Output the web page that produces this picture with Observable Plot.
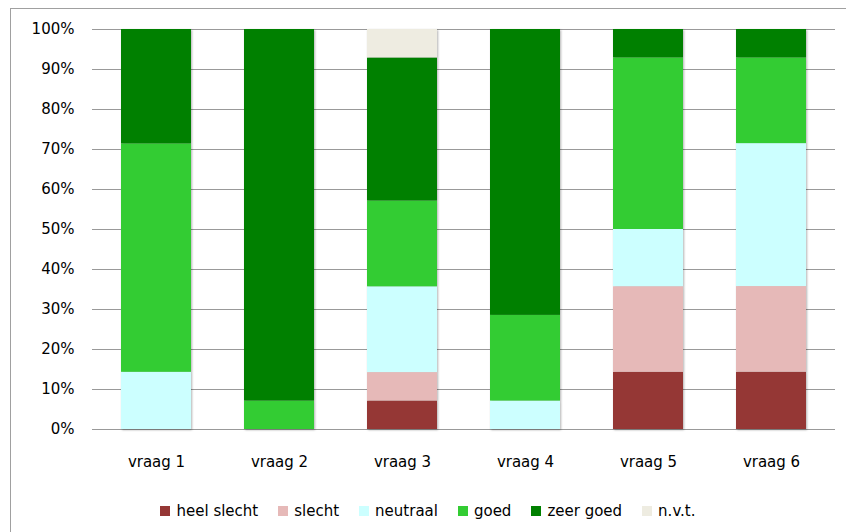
<!DOCTYPE html>
<html>
<head>
<meta charset="utf-8">
<script src="https://cdn.jsdelivr.net/npm/d3@7"></script>
<script src="https://cdn.jsdelivr.net/npm/@observablehq/plot@0.6"></script>
<style>
  html, body { margin: 0; padding: 0; background: #fff; overflow: hidden; }
  body { width: 846px; height: 532px; position: relative; font-family: "DejaVu Sans", sans-serif; }
  #frame { position: absolute; left: 10px; top: 8px; width: 900px; height: 600px; border: 1px solid #a0a0a0; box-sizing: border-box; }
  #chart { position: absolute; left: 0; top: 0; }
  #legend { position: absolute; left: 10px; top: 502px; width: 836px; display: flex; justify-content: center; gap: 20px; font-size: 15px; color: #000; }
  .item { display: flex; align-items: center; }
  .sw { width: 10px; height: 10px; margin-right: 6px; }
</style>
</head>
<body>
<div id="frame"></div>
<div id="chart"></div>
<div id="legend"></div>
<script>
const categories = ["vraag 1", "vraag 2", "vraag 3", "vraag 4", "vraag 5", "vraag 6"];
const series = ["heel slecht", "slecht", "neutraal", "goed", "zeer goed", "n.v.t."];
const colors = ["#953735", "#E6B9B8", "#CCFFFF", "#33CC33", "#008000", "#EEECE1"];
// percentages
const heelSlecht = [0, 0, 7.1, 0, 14.3, 14.3];
const slecht     = [0, 0, 7.1, 0, 21.4, 21.4];
const neutraal   = [14.3, 0, 21.4, 7.1, 14.3, 35.7];
const goed       = [57.1, 7.1, 21.4, 21.4, 42.9, 21.4];
const zeerGoed   = [28.6, 92.9, 35.7, 71.4, 7.1, 7.1];
const nvt        = [0, 0, 7.1, 0, 0, 0];
const yTicks = [0, 0.1, 0.2, 0.3, 0.4, 0.5, 0.6, 0.7, 0.8, 0.9, 1];

const seriesValues = [heelSlecht, slecht, neutraal, goed, zeerGoed, nvt];
const data = [];
series.forEach((s, i) => categories.forEach((c, j) => data.push({vraag: c, reeks: s, waarde: seriesValues[i][j]})));

const plot = Plot.plot({
  width: 846,
  height: 490,
  marginTop: 29,
  marginLeft: 92,
  marginRight: 11,
  marginBottom: 61,
  style: {fontFamily: "DejaVu Sans, sans-serif", fontSize: "15px", color: "#000", background: "transparent"},
  x: {domain: categories, paddingInner: 0.434, paddingOuter: 0.227, label: null},
  y: {domain: [0, 1], label: null},
  color: {domain: series, range: colors},
  marks: [
    Plot.gridY(yTicks, {stroke: "#999", strokeOpacity: 1, strokeWidth: 1}),
    Plot.barY(data, Plot.stackY({order: series, offset: "normalize"}, {x: "vraag", y: "waarde", fill: "reeks"})),
    Plot.axisY(yTicks, {tickSize: 0, tickPadding: 18, tickFormat: d3.format(".0%"), fontSize: 15}),
    Plot.axisX({tickSize: 0, tickPadding: 27, fontSize: 15})
  ]
});
d3.select(plot).selectAll('g[aria-label="bar"]').style("filter", "drop-shadow(1px 1px 1px rgba(0,0,0,0.3))");
document.getElementById("chart").appendChild(plot);

const legend = document.getElementById("legend");
series.forEach((s, i) => {
  const it = document.createElement("div");
  it.className = "item";
  const sw = document.createElement("div");
  sw.className = "sw";
  sw.style.background = colors[i];
  const t = document.createElement("span");
  t.textContent = s;
  it.appendChild(sw); it.appendChild(t);
  legend.appendChild(it);
});
</script>
</body>
</html>
